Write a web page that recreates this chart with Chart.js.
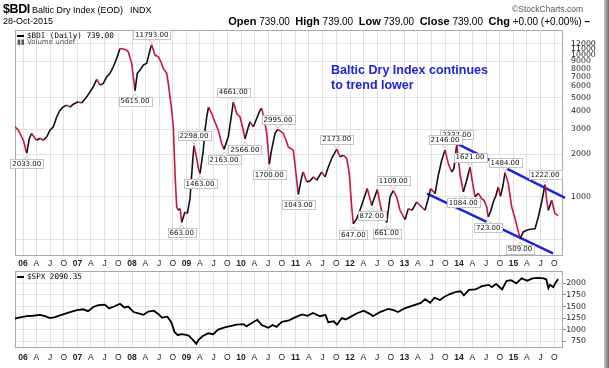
<!DOCTYPE html>
<html><head><meta charset="utf-8">
<script src="https://cdn.jsdelivr.net/npm/chart.js@4.4.0/dist/chart.umd.min.js"></script>
<style>
html,body{margin:0;padding:0;background:#fff;}
body{width:609px;height:368px;position:relative;overflow:hidden;font-family:"DejaVu Sans",sans-serif;}
.t{position:absolute;white-space:nowrap;color:#000;line-height:1;}
canvas{position:absolute;left:0;}
#c1{top:0;}
#c2{top:266px;}
.shadowR{position:absolute;right:0;top:0;width:5px;height:368px;background:linear-gradient(to right,#c8c8c8,#6a6a6a);}
.bar{display:inline-block;width:7px;height:2px;background:#000;vertical-align:middle;margin-right:3px;}
</style></head><body>
<canvas id="c1" width="609" height="270"></canvas>
<canvas id="c2" width="609" height="102"></canvas>

<div class="t" style="left:3px;top:2px;font:bold 12.5px 'Liberation Sans',Arial,sans-serif;letter-spacing:-0.4px;">$BDI</div>
<div class="t" style="left:32px;top:5px;font:9px 'Liberation Sans',Arial,sans-serif;">Baltic Dry Index (EOD)</div>
<div class="t" style="left:130px;top:5px;font:9px 'Liberation Sans',Arial,sans-serif;">INDX</div>
<div class="t" style="right:26px;top:4px;font:8.5px 'Liberation Sans',Arial,sans-serif;color:#555;">©StockCharts.com</div>
<div class="t" style="left:3px;top:16px;font:9px 'Liberation Sans',Arial,sans-serif;">28-Oct-2015</div>
<div class="t" style="right:19px;top:15px;font:10px 'Liberation Sans',Arial,sans-serif;"><b style="font-size:11px">Open</b> 739.00 &nbsp;<b style="font-size:11px">High</b> 739.00 &nbsp;<b style="font-size:11px">Low</b> 739.00 &nbsp;<b style="font-size:11px">Close</b> 739.00 &nbsp;<b style="font-size:11px">Chg</b> +0.00 (+0.00%) <b>–</b></div>

<div class="t" style="left:17px;top:31px;font:7.6px 'DejaVu Sans Mono',monospace;"><span class="bar"></span>$BDI (Daily) 739.00</div>
<div class="t" style="left:17px;top:38px;font:7px 'DejaVu Sans',sans-serif;color:#555;">▮▮ Volume undef</div>
<div class="t" style="left:17px;top:272px;font:7.6px 'DejaVu Sans Mono',monospace;"><span class="bar"></span>$SPX 2090.35</div>

<div class="t" style="left:331px;top:63px;font:bold 12.5px 'Liberation Sans',Arial,sans-serif;color:#1f25d2;line-height:15px;">Baltic Dry Index continues<br>to trend lower</div>
<div class="shadowR"></div>

<script>
// ---------- data (decimal years) ----------
const bdiDates = [2005.853,2005.914,2006.006,2006.068,2006.116,2006.160,2006.202,2006.251,2006.312,2006.372,2006.435,2006.495,2006.556,2006.618,2006.679,2006.739,2006.802,2006.862,2006.923,2007.015,2007.077,2007.169,2007.229,2007.290,2007.352,2007.413,2007.473,2007.536,2007.596,2007.657,2007.719,2007.780,2007.840,2007.903,2007.932,2007.994,2008.024,2008.055,2008.097,2008.147,2008.207,2008.270,2008.330,2008.361,2008.422,2008.483,2008.532,2008.574,2008.637,2008.666,2008.697,2008.728,2008.758,2008.789,2008.820,2008.850,2008.881,2008.912,2008.972,2009.015,2009.064,2009.114,2009.138,2009.187,2009.217,2009.248,2009.308,2009.339,2009.371,2009.404,2009.462,2009.523,2009.583,2009.646,2009.688,2009.767,2009.829,2009.859,2009.921,2009.982,2010.042,2010.073,2010.128,2010.165,2010.226,2010.288,2010.349,2010.380,2010.440,2010.472,2010.519,2010.560,2010.624,2010.679,2010.776,2010.826,2010.868,2010.960,2010.991,2011.051,2011.114,2011.143,2011.206,2011.266,2011.327,2011.389,2011.481,2011.541,2011.602,2011.664,2011.756,2011.817,2011.877,2011.939,2011.987,2012.031,2012.061,2012.123,2012.183,2012.244,2012.317,2012.398,2012.501,2012.582,2012.673,2012.734,2012.794,2012.857,2012.917,2013.009,2013.070,2013.138,2013.224,2013.316,2013.376,2013.437,2013.481,2013.560,2013.620,2013.683,2013.743,2013.804,2013.866,2013.908,2013.958,2014.018,2014.079,2014.141,2014.202,2014.257,2014.294,2014.354,2014.417,2014.459,2014.508,2014.537,2014.587,2014.629,2014.679,2014.721,2014.761,2014.807,2014.844,2014.905,2014.967,2015.028,2015.073,2015.119,2015.180,2015.242,2015.303,2015.394,2015.455,2015.517,2015.578,2015.609,2015.639,2015.701,2015.730,2015.761,2015.822];
const bdiValues = [3120,2950,2510,2033,2580,2800,2640,2510,2590,2510,2650,2950,3120,3660,4080,4310,4430,4290,4500,4680,4580,5070,5500,5970,6730,6130,6300,7020,7420,8260,9460,11100,11000,10800,10500,8730,7020,5615,7420,7830,8490,8730,10830,11793,9980,9710,8910,8040,7420,6300,5070,4080,3120,1460,850,806,828,663,784,764,974,1815,2298,1875,1594,1463,2135,2950,3660,4300,3870,3360,2950,2380,2163,2650,3870,4661,3870,3660,2950,2566,3050,3380,3120,3570,4080,4209,3290,2800,1700,2135,2810,2995,2800,2510,2250,2135,1673,1043,1384,1500,1276,1300,1384,1312,1500,1384,1628,1866,2173,1915,1968,1866,1462,850,647,704,806,948,1146,872,1128,784,661,1000,1109,1000,806,693,828,806,922,850,806,974,1146,1057,1422,1815,2146,1720,1500,1594,2337,1462,1084,1312,1621,1209,1000,1062,974,948,850,723,806,922,1028,1176,1011,1209,1484,1243,850,704,602,509,567,582,592,598,723,922,1222,948,806,948,850,764,739];

const spxDates = [2005.853,2005.945,2006.068,2006.183,2006.312,2006.404,2006.495,2006.587,2006.679,2006.862,2006.991,2007.106,2007.193,2007.290,2007.382,2007.500,2007.580,2007.670,2007.780,2007.860,2007.930,2008.030,2008.120,2008.210,2008.300,2008.400,2008.480,2008.550,2008.650,2008.720,2008.780,2008.840,2008.900,2008.970,2009.040,2009.130,2009.180,2009.220,2009.300,2009.400,2009.490,2009.580,2009.700,2009.820,2009.920,2010.050,2010.100,2010.250,2010.300,2010.380,2010.500,2010.580,2010.650,2010.750,2010.880,2011.000,2011.120,2011.220,2011.320,2011.450,2011.550,2011.600,2011.700,2011.760,2011.850,2011.920,2012.000,2012.120,2012.250,2012.380,2012.420,2012.550,2012.700,2012.800,2012.880,2013.000,2013.150,2013.300,2013.380,2013.470,2013.550,2013.650,2013.720,2013.830,2013.950,2014.030,2014.090,2014.180,2014.300,2014.420,2014.550,2014.600,2014.680,2014.790,2014.870,2014.950,2015.000,2015.050,2015.150,2015.250,2015.350,2015.450,2015.550,2015.600,2015.640,2015.670,2015.730,2015.760,2015.800,2015.822];
const spxValues = [1240,1265,1290,1300,1320,1290,1250,1270,1310,1380,1420,1440,1400,1490,1530,1540,1460,1500,1560,1480,1500,1380,1350,1320,1390,1410,1340,1260,1280,1160,950,880,900,890,870,760,690,780,860,920,900,1000,1050,1080,1110,1120,1070,1180,1210,1100,1040,1100,1060,1170,1200,1270,1330,1300,1360,1290,1320,1160,1180,1110,1250,1220,1270,1350,1410,1330,1290,1380,1450,1420,1380,1460,1520,1580,1660,1580,1690,1640,1700,1770,1820,1830,1740,1860,1870,1940,1970,1920,1990,1870,2050,2070,2040,2000,2110,2060,2110,2120,2110,2090,1900,1970,1920,1990,2070,2090.35];

// labelled highs / lows
const annoDates  = [2006.068,2008.055,2008.361,2008.912,2009.138,2009.248,2009.688,2009.859,2010.073,2010.519,2010.679,2011.051,2011.756,2012.061,2012.398,2012.673,2012.794,2013.958,2013.743,2014.079,2014.202,2014.537,2014.844,2015.119,2015.578];
const annoValues = [2033,5615,11793,663,2298,1463,2163,4661,2566,1700,2995,1043,2173,647,872,661,1109,2337,2146,1084,1621,723,1484,509,1222];
const annoKind   = ['low','low','high','low','high','low','low','high','low','low','high','low','high','low','low','low','high','high','high','low','high','low','high','low','high'];

// trend channel (drawn lines)
const channelUpperDates = [2013.945, 2015.945];
const channelUpperValues = [2390, 987];
const channelLowerDates = [2013.413, 2015.725];
const channelLowerValues = [1057, 401];

// axes
const years = [2006,2007,2008,2009,2010,2011,2012,2013,2014,2015];
const quarterLetters = ['', 'A', 'J', 'O'];
const quarterOffsets = [0, 90/365, 181/365, 273/365];
const bdiTicks = [500,1000,2000,3000,4000,5000,6000,7000,8000,9000,10000,11000,12000];
const bdiGridValues = [500,1000,2000,3000,5000,9000,12000];
const spxTicks = [750,1000,1250,1500,1750,2000];

// ---------- build ----------
const X_MIN = 2005.853, X_MAX = 2015.908;
const quarterTicks = [];
years.forEach(y => quarterOffsets.forEach((o, q) => quarterTicks.push({ value: y + o, label: q === 0 ? String(y).slice(2) : quarterLetters[q] })));
const labelFor = v => { const t = quarterTicks.find(t => Math.abs(t.value - v) < 1e-6); return t ? t.label : ''; };
const isYear = v => Math.abs(v - Math.round(v)) < 1e-6;

function xAxis(h, pad) {
  return {
    type: 'linear', min: X_MIN, max: X_MAX,
    afterBuildTicks: s => { s.ticks = quarterTicks.map(t => ({ value: t.value })); },
    afterFit: s => { s.height = h; },
    grid: { color: '#e2e2e2', lineWidth: 1, drawTicks: false },
    border: { display: false },
    ticks: {
      autoSkip: false, maxRotation: 0, minRotation: 0, padding: pad, color: '#222',
      callback: v => labelFor(v),
      font: c => ({ family: "'Liberation Sans', Arial, sans-serif", size: 8.5, weight: (c.tick && isYear(c.tick.value)) ? 'bold' : 'normal' })
    }
  };
}

const framePlugin = {
  id: 'frame',
  beforeDatasetsDraw(chart) {
    const { ctx, chartArea: a } = chart;
    ctx.save(); ctx.strokeStyle = '#a8a8a8'; ctx.lineWidth = 1;
    ctx.strokeRect(Math.round(a.left) + 0.5, Math.round(a.top) + 0.5, Math.round(a.right - a.left) - 1, Math.round(a.bottom - a.top) - 1);
    ctx.restore();
  }
};

const annoPlugin = {
  id: 'anno',
  afterDatasetsDraw(chart) {
    const { ctx } = chart;
    const xs = chart.scales.x, ys = chart.scales.y;
    ctx.save();
    ctx.font = "7px 'DejaVu Sans', sans-serif";
    ctx.textAlign = 'center'; ctx.textBaseline = 'middle';
    annoDates.forEach((d, i) => {
      const px = xs.getPixelForValue(d), py = ys.getPixelForValue(annoValues[i]);
      const txt = annoValues[i].toFixed(2);
      const w = Math.round(ctx.measureText(txt).width + 4), h = 9;
      const up = annoKind[i] === 'high';
      const cy = up ? py - 10 : py + 10.5;
      const bx = Math.round(px - w / 2) + 0.5, by = Math.round(cy - h / 2) + 0.5;
      ctx.beginPath();
      if (up) { ctx.moveTo(px - 3, by + h); ctx.lineTo(px, by + h + 3.5); ctx.lineTo(px + 3, by + h); }
      else { ctx.moveTo(px - 3, by); ctx.lineTo(px, by - 3.5); ctx.lineTo(px + 3, by); }
      ctx.fillStyle = '#fff'; ctx.fill(); ctx.strokeStyle = '#c4c4c4'; ctx.lineWidth = 1; ctx.stroke();
      ctx.fillStyle = '#fff'; ctx.fillRect(bx, by, w, h);
      ctx.strokeRect(bx, by, w, h);
      ctx.fillStyle = '#111';
      ctx.fillText(txt, px, cy + 0.5);
    });
    ctx.restore();
  }
};

const toXY = (xs, ys) => xs.map((x, i) => ({ x, y: ys[i] }));

new Chart(document.getElementById('c1'), {
  type: 'line',
  data: {
    datasets: [
      {
        data: toXY(bdiDates, bdiValues), borderWidth: 1.6, pointRadius: 0, tension: 0,
        borderColor: '#c8163c',
        segment: { borderColor: c => c.p1.parsed.y >= c.p0.parsed.y ? '#111' : '#c8163c' }
      },
      { data: toXY(channelUpperDates, channelUpperValues), borderColor: '#1f25d2', borderWidth: 2.5, pointRadius: 0, clip: { left: 0, top: 0, right: 4, bottom: 0 } },
      { data: toXY(channelLowerDates, channelLowerValues), borderColor: '#1f25d2', borderWidth: 2.5, pointRadius: 0 }
    ]
  },
  options: {
    responsive: false, animation: false, devicePixelRatio: 1,
    layout: { padding: { left: 15, top: 30, right: 0, bottom: 0 } },
    plugins: { legend: { display: false }, tooltip: { enabled: false } },
    scales: {
      x: xAxis(14, 3),
      y: {
        type: 'logarithmic', position: 'right', min: 384, max: 14985,
        afterBuildTicks: s => { s.ticks = bdiTicks.map(v => ({ value: v })); },
        afterFit: s => { s.width = 46; },
        grid: { drawTicks: false, color: c => (c.tick && bdiGridValues.includes(c.tick.value)) ? '#e2e2e2' : 'rgba(0,0,0,0)' },
        border: { display: false },
        ticks: { autoSkip: false, padding: 8, color: '#222', font: { family: "'DejaVu Sans', sans-serif", size: 7.8 }, callback: v => v === 500 ? '' : String(v) }
      }
    }
  },
  plugins: [framePlugin, annoPlugin]
});

new Chart(document.getElementById('c2'), {
  type: 'line',
  data: { datasets: [{ data: toXY(spxDates, spxValues), borderColor: '#000', borderWidth: 1.8, pointRadius: 0, tension: 0 }] },
  options: {
    responsive: false, animation: false, devicePixelRatio: 1,
    layout: { padding: { left: 15, top: 3, right: 23, bottom: 0 } },
    plugins: { legend: { display: false }, tooltip: { enabled: false } },
    scales: {
      x: xAxis(20, 5),
      y: {
        type: 'linear', position: 'right', min: 601, max: 2277,
        afterBuildTicks: s => { s.ticks = spxTicks.map(v => ({ value: v })); },
        afterFit: s => { s.width = 23; },
        grid: { color: '#e2e2e2', drawTicks: true, tickLength: 3, tickColor: '#888' },
        border: { display: false },
        ticks: { autoSkip: false, padding: 0, crossAlign: 'far', color: '#222', font: { family: "'DejaVu Sans', sans-serif", size: 7.8 }, callback: v => String(v) }
      }
    }
  },
  plugins: [framePlugin]
});
</script>
</body></html>
